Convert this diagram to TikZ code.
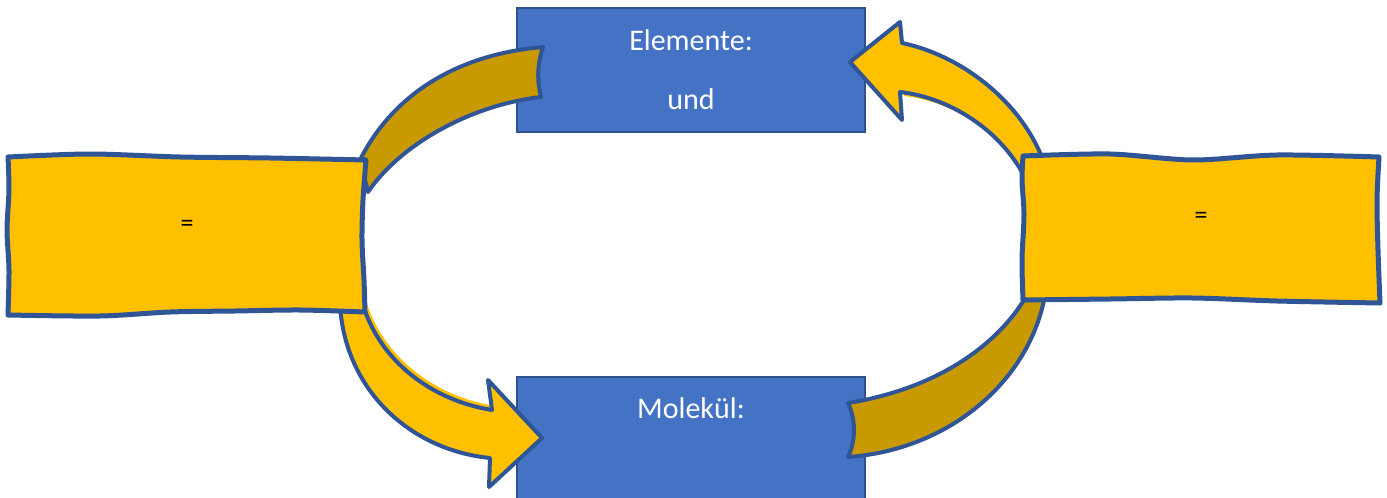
\documentclass[tikz,border=0pt]{standalone}
\usepackage{fontspec}
\setmainfont{Carlito}
\definecolor{boxblue}{HTML}{4472C4}
\definecolor{rimblue}{HTML}{2F528F}
\definecolor{lineblue}{HTML}{2F5597}
\definecolor{gold}{HTML}{FFC000}
\definecolor{darkgold}{HTML}{C99A00}
\begin{document}
\begin{tikzpicture}[x=0.5pt,y=-0.5pt,
  bluebox/.style={draw=rimblue,fill=boxblue,line width=1pt},
  bluetext/.style={text=white,font=\fontsize{15}{18}\selectfont},
  wavybox/.style={draw=lineblue,fill=gold,line width=2.5pt,line join=round},
  arrowbody/.style={draw=lineblue,line width=2pt,line join=round},
  eqtext/.style={text=black,font=\fontsize{13}{15}\selectfont}]
\useasboundingbox (0,0) rectangle (1387,498);
% blue boxes
\path[bluebox] (517,8) rectangle (865,132);
\path[bluebox] (517,377) rectangle (865,500);
\node[bluetext] (elem) at (691,40) {Elemente:};
\node[bluetext] (und) at (691,99) {und};
\node[bluetext] (mol) at (691,408) {Molekül:};
% arrow 1: left box -> Elemente (gold band)
\path[arrowbody,fill=darkgold] (360,160) .. controls (390,100) and (450,55) .. (543,47)
  .. controls (537,65) and (537,80) .. (541,97)
  .. controls (470,105) and (400,145) .. (368,192) -- cycle;
% arrow 2: right box -> Elemente (yellow with head), shadow first
\fill[gold,shift={(4,4)}] (902,43) .. controls (960,55) and (1020,100) .. (1043,160)
  -- (1022,172) .. controls (995,125) and (945,97) .. (900,92) -- cycle;
\path[arrowbody,fill=gold] (902,43) .. controls (960,55) and (1020,100) .. (1043,160)
  -- (1022,172) .. controls (995,125) and (945,97) .. (900,92)
  -- (902,120) -- (850,62) -- (900,22) -- cycle;
% arrow 3: left box -> Molekuel (yellow with head)
\fill[gold,shift={(3,-4)}] (340,305) .. controls (345,390) and (410,450) .. (490,458)
  -- (492,410) .. controls (430,400) and (380,360) .. (363,305) -- cycle;
\path[arrowbody,fill=gold] (340,305) .. controls (345,390) and (410,450) .. (490,458)
  -- (489,487) -- (542,438) -- (488,380) -- (492,410)
  .. controls (430,400) and (380,360) .. (363,305) -- cycle;
% arrow 4: right box -> Molekuel (gold band)
\path[arrowbody,fill=darkgold] (1045,295) .. controls (1030,380) and (950,450) .. (848,457)
  .. controls (856,440) and (856,420) .. (848,403)
  .. controls (930,390) and (995,350) .. (1027,295) -- cycle;
% left wavy box
\path[wavybox] plot[smooth] coordinates {(8,157) (90,154) (180,157) (270,158) (366,160)}
  -- plot[smooth] coordinates {(366,160) (363,200) (362,240) (364,280) (365,312)}
  -- plot[smooth] coordinates {(365,312) (300,310) (235,311) (170,312) (100,316) (8,315)}
  -- plot[smooth] coordinates {(8,315) (9,270) (7,230) (9,190) (8,157)} -- cycle;
\node[eqtext] (eqL) at (187,226) {=};
% right wavy box
\path[wavybox] plot[smooth] coordinates {(1023,156) (1110,154) (1193,160) (1277,155) (1379,157)}
  -- plot[smooth] coordinates {(1379,157) (1377,200) (1378,250) (1380,303)}
  -- plot[smooth] coordinates {(1380,303) (1277,301) (1193,298) (1110,299) (1023,300)}
  -- plot[smooth] coordinates {(1023,300) (1022,260) (1024,215) (1022,180) (1023,156)} -- cycle;
\node[eqtext] (eqR) at (1201,218) {=};
\end{tikzpicture}
\end{document}
